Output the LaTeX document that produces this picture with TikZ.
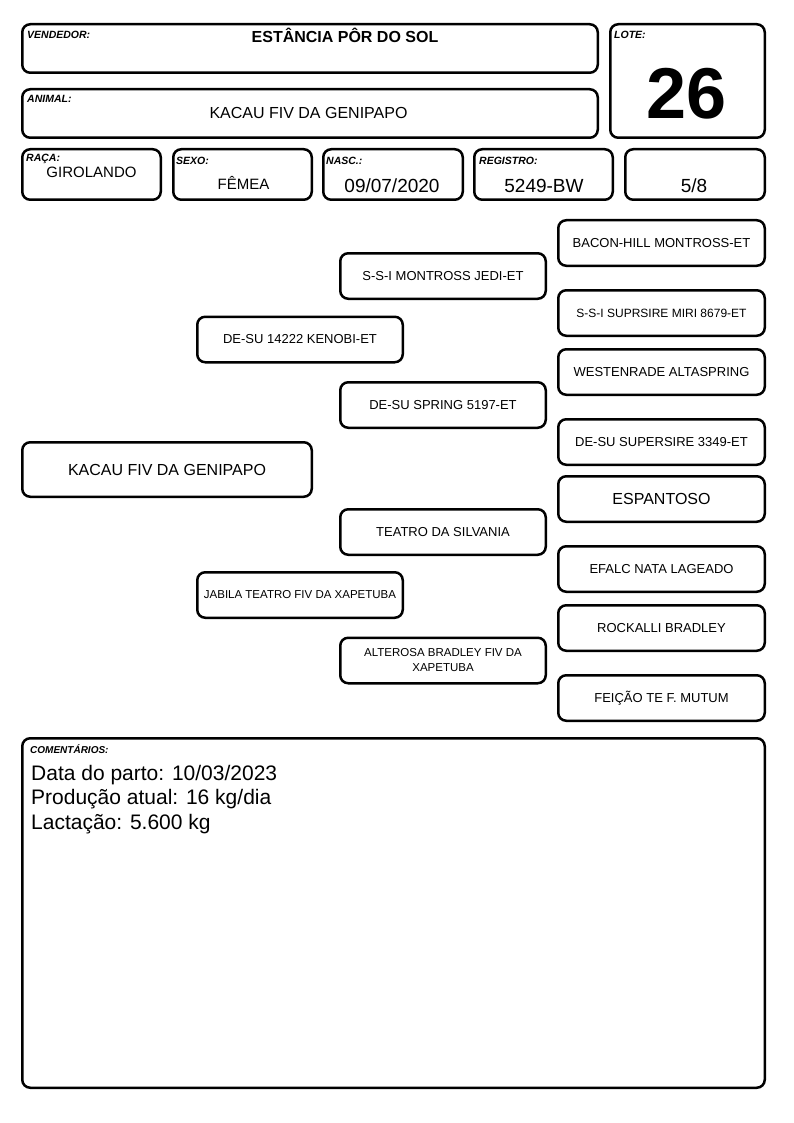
\documentclass[tikz,border=0pt]{standalone}
\usepackage{fontspec}
\setmainfont{Liberation Sans}
\newcommand{\fsz}[1]{\fontsize{#1}{#1}\selectfont}
\tikzset{
  box/.style={draw=black, line width=2.5pt, rounded corners=8pt, fill=white, inner sep=0pt},
  lbl/.style={anchor=base west, inner sep=0pt, font=\fsz{10.5}\bfseries\itshape},
  val/.style={anchor=base, inner sep=0pt},
  cline/.style={anchor=base west, inner sep=0pt, font=\fsz{21}},
  ped/.style={box, minimum width=205.5pt, minimum height=45.5pt, align=center, font=\fsz{13}},
  pedR/.style={box, minimum width=206.5pt, minimum height=45.5pt, align=center, font=\fsz{13}},
}
\begin{document}
\begin{tikzpicture}[x=1pt,y=-1pt]
\useasboundingbox[fill=white] (0,0) rectangle (794,1123);
% header boxes
\node[box, minimum width=575.5pt, minimum height=48.5pt] (vend) at (310,48.5) {};
\node[box, minimum width=154.5pt, minimum height=113.5pt] (lote) at (687.5,81) {};
\node[box, minimum width=575.5pt, minimum height=48.5pt] (anim) at (310,113.5) {};
\node[box, minimum width=138.5pt, minimum height=50.5pt] (raca) at (91.5,174.5) {};
\node[box, minimum width=138.5pt, minimum height=50.5pt] (sexo) at (242.5,174.5) {};
\node[box, minimum width=139.5pt, minimum height=50.5pt] (nasc) at (393,174.5) {};
\node[box, minimum width=138.5pt, minimum height=50.5pt] (reg) at (543.5,174.5) {};
\node[box, minimum width=139.5pt, minimum height=50.5pt] (grau) at (695,174.5) {};
% labels
\node[lbl] (lvend) at (27,39) {VENDEDOR:};
\node[lbl] (llote) at (614,39) {LOTE:};
\node[lbl] (lanim) at (27,103) {ANIMAL:};
\node[lbl] (lraca) at (26,162) {RAÇA:};
\node[lbl] (lsexo) at (176,165) {SEXO:};
\node[lbl] (lnasc) at (326,165) {NASC.:};
\node[lbl] (lreg) at (479,165) {REGISTRO:};
% values
\node[val, font=\fsz{16}\bfseries] (tvend) at (345,43) {ESTÂNCIA PÔR DO SOL};
\node[val, font=\fsz{72}\bfseries] (tlote) at (687,119) {26};
\node[val, font=\fsz{16}] (tanim) at (308.5,119) {KACAU FIV DA GENIPAPO};
\node[val, font=\fsz{15}] (traca) at (91.5,178) {GIROLANDO};
\node[val, font=\fsz{15}] (tsexo) at (243.5,189.5) {FÊMEA};
\node[val, font=\fsz{19}] (tnasc) at (392,193) {09/07/2020};
\node[val, font=\fsz{19}] (treg) at (544,193) {5249-BW};
\node[val, font=\fsz{19}] (tgrau) at (694,193) {5/8};
% pedigree
\node[box, minimum width=289.5pt, minimum height=54.5pt, font=\fsz{16}] (p0) at (167,469.5) {KACAU FIV DA GENIPAPO};
\node[ped] (p1) at (300,339.5) {DE-SU 14222 KENOBI-ET};
\node[ped, font=\fsz{11.5}] (p2) at (300,595) {JABILA TEATRO FIV DA XAPETUBA};
\node[ped] (p11) at (443,276) {S-S-I MONTROSS JEDI-ET};
\node[ped] (p12) at (443,405) {DE-SU SPRING 5197-ET};
\node[ped] (p21) at (443,532) {TEATRO DA SILVANIA};
\node[ped, font=\fontsize{11.5}{15}\selectfont] (p22) at (443,660.5) {ALTEROSA BRADLEY FIV DA\\XAPETUBA};
\node[pedR] (p111) at (661.5,243) {BACON-HILL MONTROSS-ET};
\node[pedR, font=\fsz{12}] (p112) at (661.5,313) {S-S-I SUPRSIRE MIRI 8679-ET};
\node[pedR] (p121) at (661.5,372) {WESTENRADE ALTASPRING};
\node[pedR] (p122) at (661.5,442) {DE-SU SUPERSIRE 3349-ET};
\node[pedR, font=\fsz{16}] (p211) at (661.5,499) {ESPANTOSO};
\node[pedR] (p212) at (661.5,569) {EFALC NATA LAGEADO};
\node[pedR] (p221) at (661.5,628) {ROCKALLI BRADLEY};
\node[pedR] (p222) at (661.5,698) {FEIÇÃO TE F. MUTUM};
% comments
\node[box, minimum width=742.5pt, minimum height=349.5pt] (com) at (393.5,913) {};
\node[lbl, font=\fsz{10}\bfseries\itshape] (lcom) at (30,753) {COMENTÁRIOS:};
\node[cline] (c1) at (31,780) {Data do parto: 10/03/2023};
\node[cline] (c2) at (31,804.5) {Produção atual: 16 kg/dia};
\node[cline] (c3) at (31,829) {Lactação: 5.600 kg};
\end{tikzpicture}
\end{document}
